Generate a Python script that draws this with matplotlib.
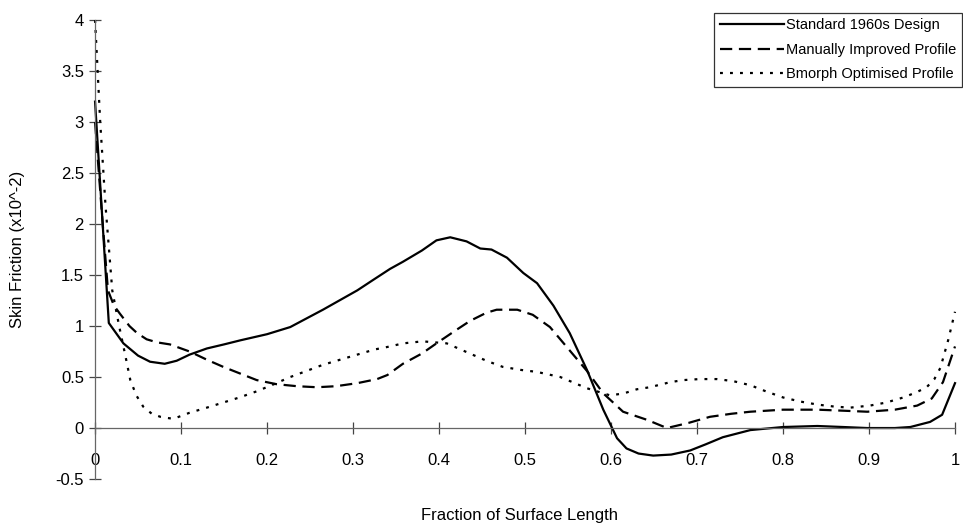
import matplotlib.pyplot as plt

plt.rcParams['font.family'] = ['Liberation Sans', 'DejaVu Sans']

# Standard 1960s Design
std_x = [0, 0.016, 0.033, 0.05, 0.064, 0.081, 0.095, 0.11, 0.13, 0.15, 0.169, 0.2, 0.227, 0.265,
         0.305, 0.323, 0.343, 0.358, 0.38, 0.397, 0.413, 0.432, 0.448, 0.461, 0.479, 0.498,
         0.514, 0.533, 0.552, 0.572, 0.591, 0.607, 0.618, 0.632, 0.649, 0.67, 0.692, 0.71,
         0.73, 0.762, 0.8, 0.84, 0.87, 0.898, 0.93, 0.948, 0.971, 0.985, 1.0]
std_y = [3.2, 1.03, 0.83, 0.71, 0.65, 0.63, 0.66, 0.72, 0.78, 0.82, 0.86, 0.92, 0.99, 1.16,
         1.35, 1.45, 1.56, 1.63, 1.74, 1.84, 1.87, 1.83, 1.76, 1.75, 1.67, 1.52,
         1.42, 1.2, 0.93, 0.57, 0.18, -0.1, -0.2, -0.25, -0.27, -0.26, -0.22, -0.16,
         -0.09, -0.02, 0.01, 0.02, 0.01, 0.0, 0.0, 0.01, 0.06, 0.13, 0.44]

# Manually Improved Profile
man_x = [0, 0.008, 0.015, 0.022, 0.029, 0.04, 0.049, 0.06, 0.072, 0.087, 0.11, 0.13, 0.149,
         0.17, 0.188, 0.211, 0.235, 0.258, 0.28, 0.305, 0.328, 0.34, 0.358, 0.38, 0.397, 0.418,
         0.436, 0.455, 0.467, 0.491, 0.509, 0.529, 0.552, 0.572, 0.591, 0.614, 0.642, 0.665,
         0.69, 0.715, 0.74, 0.762, 0.8, 0.84, 0.87, 0.898, 0.93, 0.956, 0.973, 0.986, 1.0]
man_y = [3.0, 2.1, 1.35, 1.2, 1.12, 1.0, 0.93, 0.87, 0.84, 0.82, 0.75, 0.67, 0.6,
         0.53, 0.47, 0.43, 0.41, 0.4, 0.41, 0.44, 0.48, 0.52, 0.63, 0.73, 0.83, 0.95,
         1.05, 1.13, 1.16, 1.16, 1.11, 0.99, 0.76, 0.56, 0.34, 0.16, 0.08, 0.0,
         0.05, 0.11, 0.14, 0.16, 0.18, 0.18, 0.17, 0.16, 0.18, 0.22, 0.29, 0.45, 0.8]

# Bmorph Optimised Profile
bm_x = [0, 0.006, 0.012, 0.02, 0.028, 0.035, 0.041, 0.048, 0.056, 0.066, 0.076, 0.091, 0.11,
        0.13, 0.149, 0.168, 0.188, 0.208, 0.227, 0.246, 0.265, 0.285, 0.305, 0.325, 0.343,
        0.358, 0.381, 0.409, 0.436, 0.455, 0.474, 0.495, 0.514, 0.541, 0.572, 0.599, 0.615,
        0.63, 0.645, 0.669, 0.684, 0.703, 0.723, 0.742, 0.762, 0.78, 0.8, 0.82, 0.84, 0.86,
        0.878, 0.901, 0.92, 0.94, 0.955, 0.967, 0.976, 0.983, 0.992, 1.0]
bm_y = [4.0, 3.0, 2.2, 1.35, 1.0, 0.72, 0.47, 0.32, 0.21, 0.14, 0.11, 0.09, 0.15,
        0.2, 0.25, 0.3, 0.36, 0.43, 0.5, 0.56, 0.62, 0.67, 0.72, 0.77, 0.8,
        0.83, 0.85, 0.83, 0.73, 0.66, 0.6, 0.57, 0.55, 0.5, 0.39, 0.32, 0.34,
        0.38, 0.4, 0.45, 0.47, 0.48, 0.48, 0.46, 0.42, 0.36, 0.3, 0.26, 0.23, 0.21,
        0.2, 0.22, 0.25, 0.3, 0.35, 0.4, 0.48, 0.59, 0.86, 1.14]

xticks = [0, 0.1, 0.2, 0.3, 0.4, 0.5, 0.6, 0.7, 0.8, 0.9, 1]
xticklabels = ['0', '0.1', '0.2', '0.3', '0.4', '0.5', '0.6', '0.7', '0.8', '0.9', '1']
yticks = [-0.5, 0, 0.5, 1, 1.5, 2, 2.5, 3, 3.5, 4]
yticklabels = ['-0.5', '0', '0.5', '1', '1.5', '2', '2.5', '3', '3.5', '4']

fig = plt.figure(figsize=(9.63, 5.27), dpi=100)
ax = fig.add_axes([0.0987, 0.091, 0.893, 0.871])

l1, = ax.plot(std_x, std_y, color='black', lw=1.6, label='Standard 1960s Design', clip_on=False)
l2, = ax.plot(man_x, man_y, color='black', lw=1.6, label='Manually Improved Profile', clip_on=False)
l2.set_dashes([5.5, 3.0])
l3, = ax.plot(bm_x, bm_y, color='black', lw=1.6, label='Bmorph Optimised Profile', clip_on=False)
l3.set_dashes([1.3, 3.2])

ax.set_xlim(0, 1)
ax.set_ylim(-0.5, 4)
ax.spines['top'].set_visible(False)
ax.spines['right'].set_visible(False)
ax.spines['bottom'].set_position(('data', 0))
for s in ['left', 'bottom']:
    ax.spines[s].set_color('#666666')
    ax.spines[s].set_linewidth(0.9)

ax.set_xticks(xticks)
ax.set_xticklabels(xticklabels)
ax.set_yticks(yticks)
ax.set_yticklabels(yticklabels)
ax.tick_params(axis='x', direction='inout', length=8, width=0.9, color='#444444',
               labelsize=12, pad=14)
ax.tick_params(axis='y', direction='inout', length=8, width=0.9, color='#444444',
               labelsize=12, pad=4)

ax.set_ylabel('Skin Friction (x10^-2)', fontsize=12)
ax.yaxis.set_label_coords(-0.081, 0.5)
ax.set_xlabel('Fraction of Surface Length', fontsize=12)
ax.xaxis.set_label_coords(0.493, -0.062)

leg = fig.legend(handles=[l1, l2, l3], loc='upper right', bbox_to_anchor=(0.999, 0.976),
                 fontsize=10.5, frameon=True, fancybox=False, handlelength=4.4,
                 handletextpad=0.15, labelspacing=0.7, borderpad=0.4, borderaxespad=0)
leg.get_frame().set_edgecolor('black')
leg.get_frame().set_linewidth(0.9)

fig.savefig('out.png', dpi=100)
